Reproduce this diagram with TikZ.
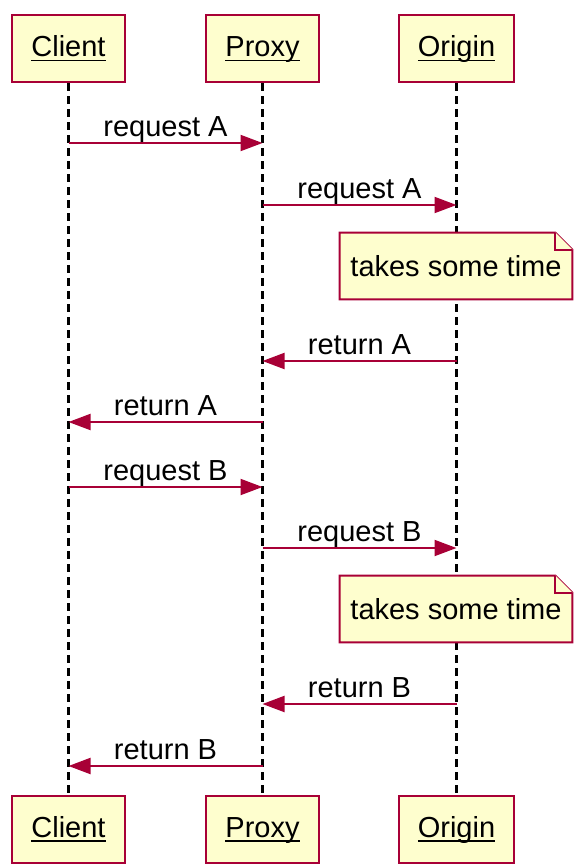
\documentclass[tikz,border=0pt]{standalone}
\usepackage{fontspec}
\setmainfont{Liberation Sans}
\usetikzlibrary{positioning,calc,arrows.meta}
\definecolor{umlfill}{HTML}{FEFECE}
\definecolor{umlred}{HTML}{A80036}
\pgfdeclarelayer{back}
\pgfsetlayers{back,main}
\newcommand{\uname}[1]{\setbox0\hbox{#1}\rlap{\rule[-2.4pt]{\wd0}{0.7pt}}\box0}
\tikzset{actor/.style={draw=umlred, fill=umlfill, line width=1pt, inner xsep=9.5pt, inner ysep=0pt, minimum height=33.5pt, text height=11pt, text depth=3pt}}
\tikzset{life/.style={draw, line width=1.1pt, dash pattern=on 4pt off 2.5pt}}
\tikzset{msg/.style={draw=umlred, line width=1pt, -{Triangle[length=11pt,width=8pt]}}}
\tikzset{lbl/.style={above, inner sep=0pt, text depth=3pt, text=black}}
\tikzset{note/.style={inner xsep=5pt, inner ysep=0pt, minimum height=33pt, minimum width=116pt}}
\tikzset{notebg/.style={draw=umlred, fill=umlfill, line width=1pt, line join=miter}}
\begin{document}
\begin{tikzpicture}[x=0.5pt, y=-0.5pt, font=\fontsize{14.5pt}{17pt}\selectfont]
  \useasboundingbox (0,0) rectangle (588,868);
  % participants
  \node[actor] (c1) at (68.5,48.5) {\uname{Client}};
  \node[actor] (p1) at (262.5,48.5) {\uname{Proxy}};
  \node[actor] (o1) at (456.5,48.5) {\uname{Origin}};
  \node[actor] (c2) at (68.5,829) {\uname{Client}};
  \node[actor] (p2) at (262.5,829) {\uname{Proxy}};
  \node[actor] (o2) at (456.5,829) {\uname{Origin}};
  \begin{pgfonlayer}{back}
    \foreach \a in {c,p,o}
      \draw[life] (\a1) -- (\a2);
  \end{pgfonlayer}
  % message rows
  \foreach \i/\y in {1/143,2/205,3/361,4/422,5/487,6/548,7/704,8/766}
    \coordinate (m\i) at (0,\y);
  \draw[msg] (c1 |- m1) -- node[lbl] {request A} (p1 |- m1);
  \draw[msg] (p1 |- m2) -- node[lbl] {request A} (o1 |- m2);
  \draw[msg] (o1 |- m3) -- node[lbl] {return A} (p1 |- m3);
  \draw[msg] (p1 |- m4) -- node[lbl] {return A} (c1 |- m4);
  \draw[msg] (c1 |- m5) -- node[lbl] {request B} (p1 |- m5);
  \draw[msg] (p1 |- m6) -- node[lbl] {request B} (o1 |- m6);
  \draw[msg] (o1 |- m7) -- node[lbl] {return B} (p1 |- m7);
  \draw[msg] (p1 |- m8) -- node[lbl] {return B} (c1 |- m8);
  % notes
  \foreach \n/\y in {n1/266,n2/609} {
    \node[note] (\n) at (456,\y) {takes some time};
    \begin{pgfonlayer}{back}
      \draw[notebg] (\n.north west) -- ($(\n.north east)+(-17,0)$)
        -- ($(\n.north east)+(0,17)$) -- (\n.south east)
        -- (\n.south west) -- cycle;
      \draw[notebg] ($(\n.north east)+(-17,0)$) |- ($(\n.north east)+(0,17)$);
    \end{pgfonlayer}
  }
\end{tikzpicture}
\end{document}
